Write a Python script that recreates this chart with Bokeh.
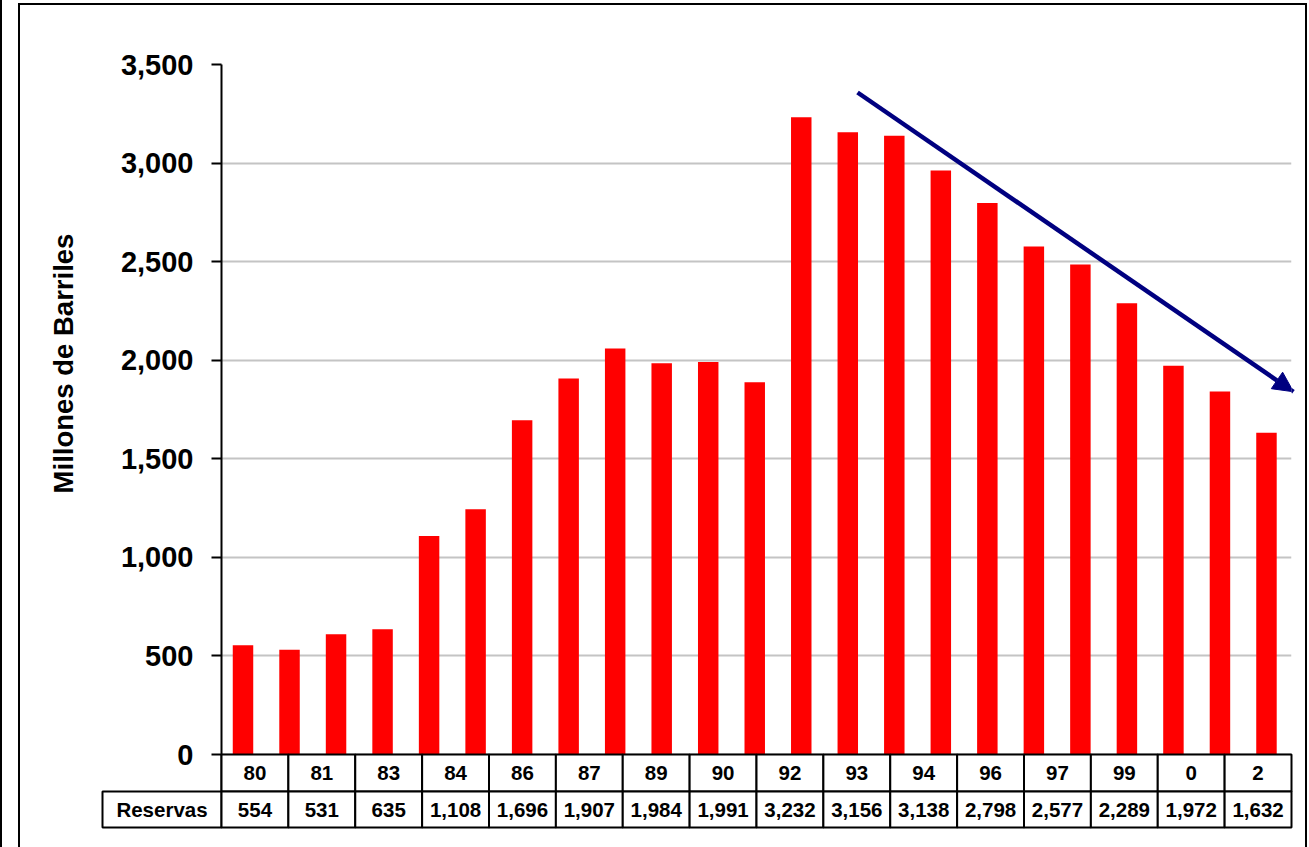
import math
from bokeh.plotting import figure
from bokeh.models import (Range1d, FixedTicker, NumeralTickFormatter, Arrow, NormalHead,
                          ColumnDataSource, Spacer)
from bokeh.layouts import row, column
from bokeh.embed import file_html
from bokeh.resources import INLINE
from bokeh.core.properties import value

# ---------------- data ----------------
years = [1980, 1981, 1982, 1983, 1984, 1985, 1986, 1987, 1988, 1989, 1990, 1991,
         1992, 1993, 1994, 1995, 1996, 1997, 1998, 1999, 2000, 2001, 2002]
reserves = [554, 531, 610, 635, 1108, 1244, 1696, 1907, 2060, 1984, 1991, 1888,
            3232, 3156, 3138, 2962, 2798, 2577, 2485, 2289, 1972, 1841, 1632]

table_labels = ["80", "81", "83", "84", "86", "87", "89", "90", "92", "93", "94",
                "96", "97", "99", "0", "2"]
table_values = [554, 531, 635, 1108, 1696, 1907, 1984, 1991, 3232, 3156, 3138,
                2798, 2577, 2289, 1972, 1632]
row_title = "Reservas"
y_title = "Millones de Barriles"
y_ticks = [0, 500, 1000, 1500, 2000, 2500, 3000, 3500]

# trend arrow (year position, value)
trend_start = (1993.21, 3358)
trend_end = (2002.58, 1840)

# ---------------- layout geometry (pixels) ----------------
FRAME_L = 221         # page x of the plot frame's left edge
FRAME_W, FRAME_H = 1070, 763
PLOT_H = 690          # pixels from value 0 to 3500
Y_MAX = 3500
PX_PER_UNIT_Y = PLOT_H / Y_MAX
PX_PER_CAT = FRAME_W / len(years)
y_bottom = -(FRAME_H - PLOT_H) / PX_PER_UNIT_Y
x_start = years[0] - 21.5 / PX_PER_CAT
x_end = x_start + FRAME_W / PX_PER_CAT

RED = "#ff0000"
NAVY = "#000080"
FONT = "Liberation Sans"

p = figure(frame_width=FRAME_W, frame_height=FRAME_H,
           x_range=Range1d(x_start, x_end), y_range=Range1d(y_bottom, Y_MAX),
           x_axis_location=None, output_backend="svg", toolbar_location=None,
           min_border_left=201, min_border_right=14, min_border_top=59, min_border_bottom=20)
p.outline_line_color = None
p.background_fill_color = "white"
p.border_fill_color = "white"

# bars
src = ColumnDataSource(dict(x=years, top=reserves))
p.vbar(x="x", top="top", bottom=0, width=0.44, source=src, fill_color=RED, line_color=None)

# axes / grid
ax = p.yaxis[0]
ax.ticker = FixedTicker(ticks=y_ticks)
ax.formatter = NumeralTickFormatter(format="0,0")
ax.major_label_text_font = FONT
ax.major_label_text_font_size = "29px"
ax.major_label_text_font_style = "bold"
ax.major_label_text_color = "black"
ax.major_label_standoff = 18
ax.axis_line_color = "black"
ax.axis_line_width = 2
ax.major_tick_line_color = "black"
ax.major_tick_line_width = 2
ax.major_tick_out = 10
ax.major_tick_in = 0
ax.minor_tick_line_color = None
p.xgrid.visible = False
p.ygrid.grid_line_color = "#c4c4c4"
p.ygrid.grid_line_width = 2

# y axis title (vertical, left of the tick labels)
title_x = x_start - (FRAME_L - 62.5) / PX_PER_CAT
title_y = (754 - 363) / PX_PER_UNIT_Y
p.text(x=[title_x], y=[title_y], text=[y_title], angle=math.pi / 2,
       text_align="center", text_baseline="middle", text_font=value(FONT),
       text_font_style="bold", text_font_size="27.5px", text_color="black", level="overlay")

# data table under the chart
n_cols = len(table_labels)
col_w = (x_end - x_start) / n_cols
edges = [x_start + k * col_w for k in range(n_cols + 1)]
row_split = -37 / PX_PER_UNIT_Y
res_left = x_start - 119 / PX_PER_CAT

lab_src = ColumnDataSource(dict(left=edges[:-1], right=edges[1:],
                                top=[0] * n_cols, bottom=[row_split] * n_cols,
                                xc=[(a + b) / 2 for a, b in zip(edges[:-1], edges[1:])],
                                yc=[row_split / 2] * n_cols, text=table_labels))
val_src = ColumnDataSource(dict(left=[res_left] + edges[:-1], right=[x_start] + edges[1:],
                                top=[row_split] * (n_cols + 1), bottom=[y_bottom] * (n_cols + 1),
                                xc=[(res_left + x_start) / 2] + [(a + b) / 2 for a, b in zip(edges[:-1], edges[1:])],
                                yc=[(row_split + y_bottom) / 2] * (n_cols + 1),
                                text=[row_title] + [f"{v:,}" for v in table_values]))
for s in (lab_src, val_src):
    p.quad(left="left", right="right", top="top", bottom="bottom", source=s,
           fill_color="white", line_color="black", line_width=2, level="overlay")
    p.text(x="xc", y="yc", text="text", source=s, text_align="center", text_baseline="middle",
           text_font=value(FONT), text_font_style="bold", text_font_size="20.5px",
           text_color="black", level="overlay")

# trend arrow
p.add_layout(Arrow(end=NormalHead(size=20, fill_color=NAVY, line_color=NAVY),
                   x_start=trend_start[0], y_start=trend_start[1],
                   x_end=trend_end[0], y_end=trend_end[1],
                   line_color=NAVY, line_width=4.5))

framed = column(p, styles={"border-top": "2px solid black", "border-left": "2px solid black",
                           "border-right": "2px solid black"})
layout = row(Spacer(width=16, height=10), column(Spacer(width=10, height=3), framed),
             styles={"border-left": "2px solid black"})

open("out.html", "w").write(file_html(layout, INLINE))
